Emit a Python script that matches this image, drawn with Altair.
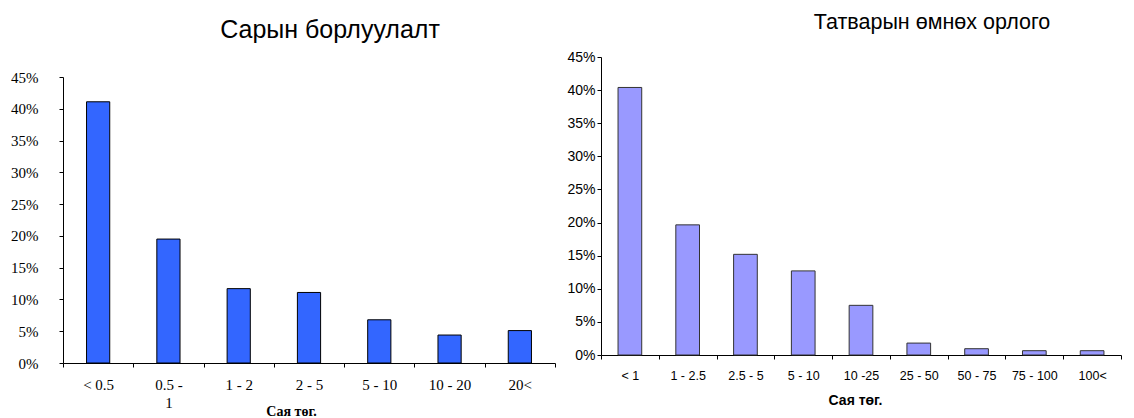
import altair as alt
import pandas as pd

# Left chart: Сарын борлуулалт
left_cats = ["< 0.5", "0.5 - 1", "1 - 2", "2 - 5", "5 - 10", "10 - 20", "20<"]
left_vals = [0.411, 0.195, 0.117, 0.111, 0.068, 0.044, 0.051]

# Right chart: Татварын өмнөх орлого
right_cats = ["< 1", "1 - 2.5", "2.5 - 5", "5 - 10", "10 -25", "25 - 50", "50 - 75", "75 - 100", "100<"]
right_vals = [0.404, 0.1965, 0.152, 0.127, 0.075, 0.018, 0.0095, 0.0065, 0.0065]

y_ticks = [0, 0.05, 0.10, 0.15, 0.20, 0.25, 0.30, 0.35, 0.40, 0.45]

left_df = pd.DataFrame({"cat": left_cats, "val": left_vals})
right_df = pd.DataFrame({"cat": right_cats, "val": right_vals})

SERIF = "Liberation Serif"
SANS = "Liberation Sans"

# ---- left ----
LW, LH = 492, 306
L_PLOT = 286  # pixel span of the 0-45% axis in the left panel

# wrapped label "0.5 -" / "1" (non-breaking spaces nudge it left as in the original)
wrap_expr = ("datum.label == '0.5 - 1' ? ['0.5 -' + '\u00a0\u00a0\u00a0', "
             "'1' + '\u00a0\u00a0\u00a0\u00a0\u00a0\u00a0\u00a0\u00a0\u00a0'] : datum.label")

lx = alt.X(
    "cat:N", sort=left_cats,
    scale=alt.Scale(paddingInner=0, paddingOuter=0),
    axis=alt.Axis(
        title="Сая төг.", titleFont=SERIF, titleFontSize=14, titleFontWeight="bold",
        titleColor="black", titleX=228, titleY=48, titleBaseline="middle", titleAlign="center",
        labelFont=SERIF, labelFontSize=15, labelColor="black", labelAngle=0,
        labelPadding=10, labelLineHeight=18, labelOverlap=False,
        labelExpr=wrap_expr,
        tickBand="extent", tickSize=4, tickColor="black", domainColor="black",
    ),
)
ly = alt.Y(
    "val:Q",
    scale=alt.Scale(domain=[0, 0.45], range=[LH, LH - L_PLOT], nice=False, zero=True),
    axis=alt.Axis(
        title=None, values=y_ticks, format=".0%", grid=False,
        labelFont=SERIF, labelFontSize=15, labelColor="black", labelPadding=21,
        labelOverlap=False, tickSize=4, tickColor="black", domainColor="black",
    ),
)
left = alt.Chart(left_df).mark_bar(
    color="#3366FF", stroke="black", strokeWidth=1, width=alt.RelativeBandSize(0.33)
).encode(x=lx, y=ly).properties(
    width=LW, height=LH,
    title=alt.TitleParams("Сарын борлуулалт", font=SANS, fontSize=25, fontWeight="normal",
                          color="black", anchor="middle", offset=14, dx=21),
)

# ---- right ----
RW, RH = 520, 298
rx = alt.X(
    "cat:N", sort=right_cats,
    scale=alt.Scale(paddingInner=0, paddingOuter=0),
    axis=alt.Axis(
        title="Сая төг.", titleFont=SANS, titleFontSize=14, titleFontWeight="bold",
        titleColor="black", titleX=254, titleY=45, titleBaseline="middle", titleAlign="center",
        labelFont=SANS, labelFontSize=12.5, labelColor="black", labelAngle=0, labelPadding=10,
        labelOverlap=False, tickBand="extent", tickSize=4, tickColor="black", domainColor="black",
    ),
)
ry = alt.Y(
    "val:Q",
    scale=alt.Scale(domain=[0, 0.45], nice=False),
    axis=alt.Axis(
        title=None, values=y_ticks, format=".0%", grid=False,
        labelFont=SANS, labelFontSize=14, labelColor="black", labelPadding=2,
        labelOverlap=False, tickSize=4, tickColor="black", domainColor="black",
    ),
)
right = alt.Chart(right_df).mark_bar(
    color="#9999FF", stroke="#333333", strokeWidth=1, width=alt.RelativeBandSize(0.41)
).encode(x=rx, y=ry).properties(
    width=RW, height=RH,
    title=alt.TitleParams("Татварын өмнөх орлого", font=SANS, fontSize=21.5, fontWeight="normal",
                          color="black", anchor="middle", offset=17, dx=71),
)

chart = alt.hconcat(left, right, spacing=46, bounds="flush").resolve_scale(
    x="independent", y="independent"
).properties(
    padding={"left": 10, "top": 11, "right": 0, "bottom": 0},
    background="white",
).configure_view(strokeWidth=0)

chart.save("out.html", embed_options={"renderer": "svg", "actions": False})
